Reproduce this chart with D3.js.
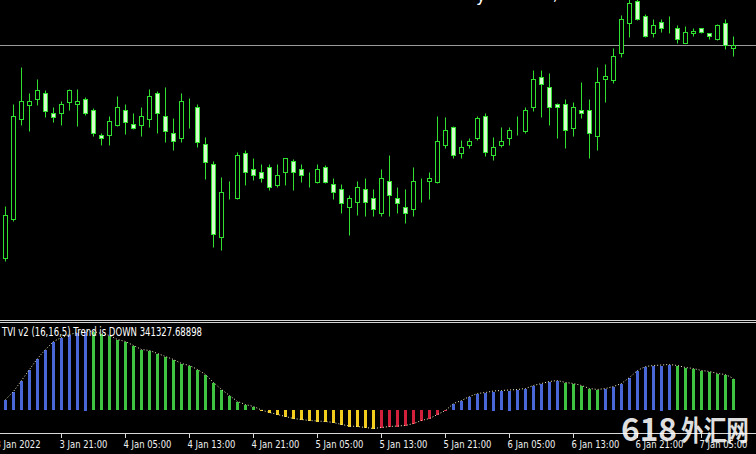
<!DOCTYPE html>
<html><head><meta charset="utf-8">
<script src="https://cdn.jsdelivr.net/npm/d3@7"></script>
<style>html,body{margin:0;padding:0;background:#000;overflow:hidden}</style>
</head><body>
<svg id="c" width="756" height="454"></svg>
<script>
// ---- Price candles (hourly, 3 Jan 14:00 .. 7 Jan 09:00), index units ----
const opens  = [62,101,201,215,221,227,207,207,218,216,221,210,185,185,195,210,196,195,201,227,204,187,182,216,213,176,156,83,125,122,167,151,148,153,135,148,159,151,142,138,153,136,131,113,118,131,122,107,139,122,113,111,141,139,138,175,193,167,175,182,204,165,175,182,187,189,213,243,233,216,216,192,210,210,184,241,240,267,297,319,304,287,298,295,292,277,287,292,287,281,297,272];
const highs  = [114,216,253,227,241,230,213,219,231,231,223,212,187,204,224,216,207,213,231,229,233,202,227,222,216,183,159,143,139,168,170,162,156,156,156,162,161,156,148,156,155,142,136,125,139,142,131,151,165,133,131,153,142,148,204,203,194,180,182,204,207,183,193,193,204,213,250,250,247,217,221,218,238,221,253,256,272,305,323,325,306,301,301,304,295,294,292,292,287,296,301,284];
const lows   = [59,99,195,189,215,203,198,195,210,194,205,184,175,175,194,186,191,184,193,187,178,170,178,192,173,141,73,70,121,121,135,140,138,130,133,135,130,138,133,137,137,121,107,85,105,104,104,104,104,107,97,104,118,121,137,172,162,162,172,180,164,160,173,175,185,187,209,203,195,182,172,184,202,162,170,218,237,263,283,300,283,283,288,287,277,277,284,287,281,280,271,264];
const closes = [105,204,219,219,230,209,203,216,230,219,207,187,182,199,213,198,192,204,224,207,189,179,219,216,178,158,86,128,125,165,148,145,142,133,145,162,148,145,142,151,138,128,117,122,133,118,111,142,125,117,107,139,141,142,179,190,165,173,179,202,168,173,179,190,187,210,241,236,213,213,190,213,207,187,238,244,264,301,317,301,284,295,292,295,281,288,289,288,284,295,275,275];
const levelLine = [275];

// ---- TVI v2 (16,16,5) histogram ----
const tvi = [10,18,29,40,51,60,68,72,75,77,78.5,78,76,74,70,68,64,60,59,56,53,50,46,44,40,35,27,20,14,8,5,3,
  -0.5,-3,-5,-7,-9,-10,-11,-11.5,-12,-13,-15,-16.5,-17,-18,-19,
  -18,-17,-16.5,-16,-14,-11,-9,-5,-1,
  6,9,13,16,17,18.5,19,19.5,20,21,24,26,28,29,
  27,26,24,21,20,
  21,23,26,32,39,43,44,44.5,45,
  44,42,41,39,38,36,35,31];
const indicatorTitle = "TVI v2 (16,16,5) Trend is DOWN 341327.68898";

// ---- time axis ----
const tickIndex  = [-1,7,15,23,31,39,47,55,63,71,79,87];
const tickLabels = ["3 Jan 2022","3 Jan 21:00","4 Jan 05:00","4 Jan 13:00","4 Jan 21:00","5 Jan 05:00","5 Jan 13:00","5 Jan 21:00","6 Jan 05:00","6 Jan 13:00","6 Jan 21:00","7 Jan 05:00"];

const svg = d3.select("#c");
svg.append("rect").attr("width",756).attr("height",454).attr("fill","#000");

const x  = d3.scaleLinear().domain([0, opens.length-1]).range([5, 733]);
const yP = d3.scaleLinear().domain([0, 320]).range([320, 0]);
const yI = d3.scaleLinear().domain([-20, 80]).range([430, 330]);
const px = v => Math.round(v) + 0.5;
const green = "#2fe02f";

// price panel clip
svg.append("clipPath").attr("id","pc").append("rect").attr("x",0).attr("y",0).attr("width",756).attr("height",319);
const pg = svg.append("g").attr("clip-path","url(#pc)");

// horizontal level line
pg.selectAll("line.lvl").data(levelLine).join("line").attr("class","lvl")
  .attr("x1",0).attr("x2",756).attr("y1",d=>px(yP(d))).attr("y2",d=>px(yP(d)))
  .attr("stroke","#9a9a9a").attr("stroke-width",1);

// candles
const cg = pg.selectAll("g.cd").data(opens.map((o,i)=>({i,o,h:highs[i],l:lows[i],c:closes[i]}))).join("g").attr("class","cd");
cg.append("line")
  .attr("x1",d=>px(x(d.i))).attr("x2",d=>px(x(d.i)))
  .attr("y1",d=>px(yP(d.h))).attr("y2",d=>px(yP(d.l)))
  .attr("stroke",green).attr("stroke-width",1);
cg.append("rect")
  .attr("x",d=>px(x(d.i))-2).attr("width",4)
  .attr("y",d=>px(yP(Math.max(d.o,d.c))))
  .attr("height",d=>px(yP(Math.min(d.o,d.c)))-px(yP(Math.max(d.o,d.c))))
  .attr("fill",d=>d.c<d.o ? "#d6fbcc" : "#000")
  .attr("stroke",green).attr("stroke-width",1);

// top cut-off text fragments
svg.append("text").attr("x",476).attr("y",1).attr("fill","#fff").attr("font-family","DejaVu Sans").attr("font-size",17).text("y");
svg.append("text").attr("x",553).attr("y",0).attr("fill","#fff").attr("font-family","DejaVu Sans").attr("font-size",14).text(",");

// panel separator
[320,322].forEach(yy=>svg.append("line").attr("x1",0).attr("x2",756).attr("y1",yy+0.5).attr("y2",yy+0.5).attr("stroke","#d4d4d4"));

// histogram
const colorOf = (v,i) => {
  const prev = i>0 ? tvi[i-1] : -Infinity;
  if (v >= 0) return v > prev ? "#4a67d8" : "#3fc43f";
  return v < prev ? "#f2cc1c" : "#d0203c";
};
svg.append("g").selectAll("rect").data(tvi).join("rect")
  .attr("x",(d,i)=>Math.round(x(i))-1).attr("width",3)
  .attr("y",d=>Math.round(Math.min(yI(d),yI(0))))
  .attr("height",d=>Math.max(1,Math.round(Math.abs(yI(d)-yI(0)))))
  .attr("fill",(d,i)=>colorOf(d,i));
svg.append("path").datum(tvi)
  .attr("d",d3.line().x((d,i)=>x(i)+0.5).y(d=>yI(d)-0.5))
  .attr("fill","none").attr("stroke","#f4f0c0").attr("stroke-width",1).attr("stroke-dasharray","1 2");

// indicator title
svg.append("text").attr("x",2).attr("y",336).attr("fill","#fff")
  .attr("font-family","DejaVu Sans").attr("font-size",12)
  .attr("textLength",200).attr("lengthAdjust","spacingAndGlyphs")
  .text(indicatorTitle);

// time axis
svg.append("line").attr("x1",0).attr("x2",756).attr("y1",433.5).attr("y2",433.5).attr("stroke","#d8d8d8");
const ax = svg.append("g");
ax.selectAll("line").data(tickIndex).join("line")
  .attr("x1",d=>px(x(d))).attr("x2",d=>px(x(d))).attr("y1",433).attr("y2",438)
  .attr("stroke","#d8d8d8");
const lbl = ax.selectAll("text").data(tickIndex).join("text")
  .attr("fill","#f0f0f0").attr("font-family","DejaVu Sans").attr("font-size",11)
  .text((d,i)=>tickLabels[i]);
const refW = lbl.nodes()[1].getComputedTextLength();
const sx = 48/refW;
lbl.attr("transform",d=>`translate(${x(d)-1.5},448) scale(${sx},1)`);

// watermark
const wm = svg.append("g").attr("fill","rgba(255,255,255,0.88)").attr("font-family","Noto Sans CJK SC").attr("font-weight","bold");
wm.append("text").attr("x",621).attr("y",441).attr("font-size",32).attr("textLength",56).attr("lengthAdjust","spacingAndGlyphs").text("618");
wm.append("text").attr("x",681).attr("y",441).attr("font-size",28).attr("textLength",68).attr("lengthAdjust","spacingAndGlyphs").text("外汇网");
</script>
</body></html>
